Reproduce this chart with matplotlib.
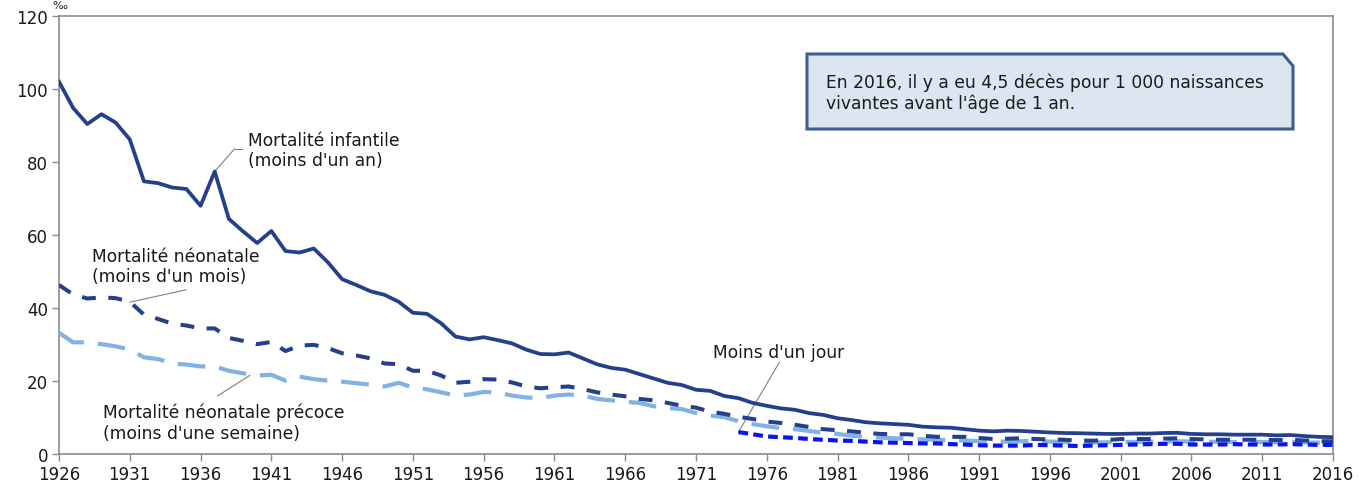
import matplotlib
matplotlib.use("Agg")
import matplotlib.pyplot as plt
from matplotlib.patches import Polygon
import numpy as np

plt.rcParams['font.family'] = ['DejaVu Sans']
plt.rcParams['lines.scale_dashes'] = False

years = list(range(1926, 2017))

infantile = [102.0, 94.8, 90.4, 93.1, 90.8, 86.2, 74.7, 74.2, 73.0, 72.6,
             68.0, 77.4, 64.4, 61.0, 57.8, 61.1, 55.6, 55.2, 56.3, 52.5,
             47.9, 46.3, 44.6, 43.6, 41.7, 38.7, 38.4, 35.8, 32.2, 31.4,
             32.0, 31.2, 30.3, 28.6, 27.4, 27.3, 27.8, 26.2, 24.6, 23.6,
             23.1, 21.9, 20.7, 19.5, 18.9, 17.6, 17.3, 15.9, 15.3, 14.0,
             13.2, 12.5, 12.1, 11.2, 10.7, 9.8, 9.3, 8.7, 8.4, 8.2,
             8.0, 7.5, 7.3, 7.2, 6.8, 6.4, 6.2, 6.4, 6.3, 6.1,
             5.9, 5.75, 5.7, 5.6, 5.5, 5.5, 5.6, 5.6, 5.75, 5.8,
             5.5, 5.4, 5.4, 5.3, 5.3, 5.3, 5.1, 5.2, 4.9, 4.7, 4.6]

neonatale = [46.3, 43.7, 42.6, 42.9, 42.7, 41.7, 38.2, 37.0, 35.7, 35.2,
             34.4, 34.4, 31.8, 31.0, 30.1, 30.7, 28.2, 29.7, 29.9, 29.0,
             27.6, 27.0, 26.2, 24.8, 24.6, 22.8, 22.8, 21.5, 19.5, 19.8,
             20.5, 20.4, 19.6, 18.5, 18.0, 18.3, 18.5, 17.8, 16.9, 16.3,
             15.8, 15.1, 14.7, 14.0, 13.2, 12.7, 11.6, 11.0, 10.2, 9.6,
             8.9, 8.5, 8.0, 7.4, 6.8, 6.5, 6.2, 5.8, 5.5, 5.4,
             5.4, 5.0, 4.7, 4.7, 4.7, 4.4, 4.1, 4.2, 4.3, 4.1,
             4.0, 3.9, 3.7, 3.65, 3.8, 4.1, 4.1, 4.1, 4.2, 4.3,
             4.1, 4.0, 3.9, 3.9, 3.9, 3.9, 3.8, 3.9, 3.7, 3.5, 3.5]

precoce = [33.2, 30.6, 30.6, 30.1, 29.5, 28.6, 26.5, 26.0, 24.8, 24.5,
           24.0, 24.0, 22.8, 22.1, 21.5, 21.7, 20.1, 21.2, 20.5, 20.1,
           19.8, 19.4, 19.0, 18.5, 19.5, 18.2, 17.7, 16.9, 16.0, 16.3,
           17.0, 16.9, 16.0, 15.5, 15.3, 16.0, 16.3, 16.0, 15.1, 14.7,
           14.3, 14.0, 13.1, 12.6, 12.3, 11.2, 10.5, 10.1, 9.0, 8.2,
           7.6, 7.1, 6.8, 6.3, 5.8, 5.5, 5.0, 4.7, 4.5, 4.3,
           4.1, 4.0, 3.9, 3.8, 3.7, 3.5, 3.4, 3.4, 3.5, 3.6,
           3.4, 3.3, 3.2, 3.2, 3.2, 3.3, 3.3, 3.4, 3.4, 3.5,
           3.4, 3.4, 3.3, 3.3, 3.3, 3.3, 3.2, 3.3, 3.2, 3.1, 3.1]

jour_years = list(range(1974, 2017))
moins_un_jour = [6.0, 5.4, 4.8, 4.6, 4.4, 4.1, 3.9, 3.7, 3.6, 3.4,
                 3.2, 3.1, 3.0, 2.9, 2.9, 2.7, 2.6, 2.4, 2.3, 2.3,
                 2.3, 2.5, 2.4, 2.3, 2.2, 2.3, 2.4, 2.5, 2.6, 2.7,
                 2.8, 2.8, 2.6, 2.6, 2.6, 2.7, 2.6, 2.6, 2.6, 2.7,
                 2.6, 2.5, 2.5]

xticks = list(range(1926, 2017, 5))
yticks = [0, 20, 40, 60, 80, 100, 120]

W, H = 1369, 489
fig = plt.figure(figsize=(W / 100, H / 100), dpi=100)
ax = fig.add_axes([59 / W, (H - 455) / H, 1274 / W, 438 / H])

c_inf = '#243F8C'
c_neo = '#243F8C'
c_pre = '#82B1E6'
c_jour = '#0A14F0'

ax.plot(years, infantile, color=c_inf, lw=2.7, solid_joinstyle='round', zorder=5)
ax.plot(years, neonatale, color=c_neo, lw=2.9, dashes=(10, 9), dash_capstyle='butt', zorder=4)
ax.plot(years, precoce, color=c_pre, lw=3.0, dashes=(20, 10), dash_capstyle='butt', zorder=3)
ax.plot(jour_years, moins_un_jour, color=c_jour, lw=3.0, dashes=(7, 3.8), dash_capstyle='butt', zorder=6)

ax.set_xlim(1926, 2016)
ax.set_ylim(0, 120)
ax.set_xticks(xticks)
ax.set_yticks(yticks)
ax.tick_params(axis='both', direction='out', length=5, width=1, color='#8C8C8C',
               labelsize=12, labelcolor='#1A1A1A', pad=3)
for s in ax.spines.values():
    s.set_color('#8C8C8C')
    s.set_linewidth(1.2)

fs = 12.3
tc = '#1A1A1A'
lc = '#808080'

def leader(p0, p1):
    ax.annotate('', xy=p0, xytext=p1,
                arrowprops=dict(arrowstyle='-', color=lc, lw=0.8, shrinkA=0, shrinkB=0))

# Annotations
leader((1937, infantile[11]), (1938.4, 83.6))
ax.plot([1938.4, 1938.9], [83.6, 83.6], color=lc, lw=0.8)
ax.text(1939.35, 83.3, "Mortalité infantile\n(moins d'un an)", fontsize=fs, color=tc,
        va='center', ha='left', linespacing=1.2)

leader((1931.0, 41.6), (1935.0, 45.0))
ax.text(1928.3, 51.5, "Mortalité néonatale\n(moins d'un mois)", fontsize=fs, color=tc,
        va='center', ha='left', linespacing=1.2)

leader((1939.5, 21.6), (1937.2, 15.9))
ax.text(1929.1, 8.6, "Mortalité néonatale précoce\n(moins d'une semaine)", fontsize=fs, color=tc,
        va='center', ha='left', linespacing=1.2)

leader((1974, moins_un_jour[0]), (1976.9, 25.2))
ax.text(1972.2, 28.0, "Moins d'un jour", fontsize=fs, color=tc, va='center', ha='left')

# Text box with folded corner (figure pixel coords)
def fx(px):
    return px / W

def fy(py):
    return (H - py) / H

box = Polygon([(fx(807), fy(55)), (fx(1283), fy(55)), (fx(1293), fy(67)),
               (fx(1293), fy(130)), (fx(807), fy(130))], closed=True,
              transform=fig.transFigure, facecolor='#DCE6F2', edgecolor='#3F5E8E',
              lw=2.2, zorder=10)
fig.patches.append(box)
fig.text(fx(826), fy(93), "En 2016, il y a eu 4,5 décès pour 1 000 naissances\nvivantes avant l'âge de 1 an.",
         fontsize=12.3, color=tc, va='center', ha='left', linespacing=1.2, zorder=11)

fig.text(fx(52), fy(1), '‰', fontsize=8, color=tc, va='top', ha='left')

fig.savefig('out.png', dpi=100)
